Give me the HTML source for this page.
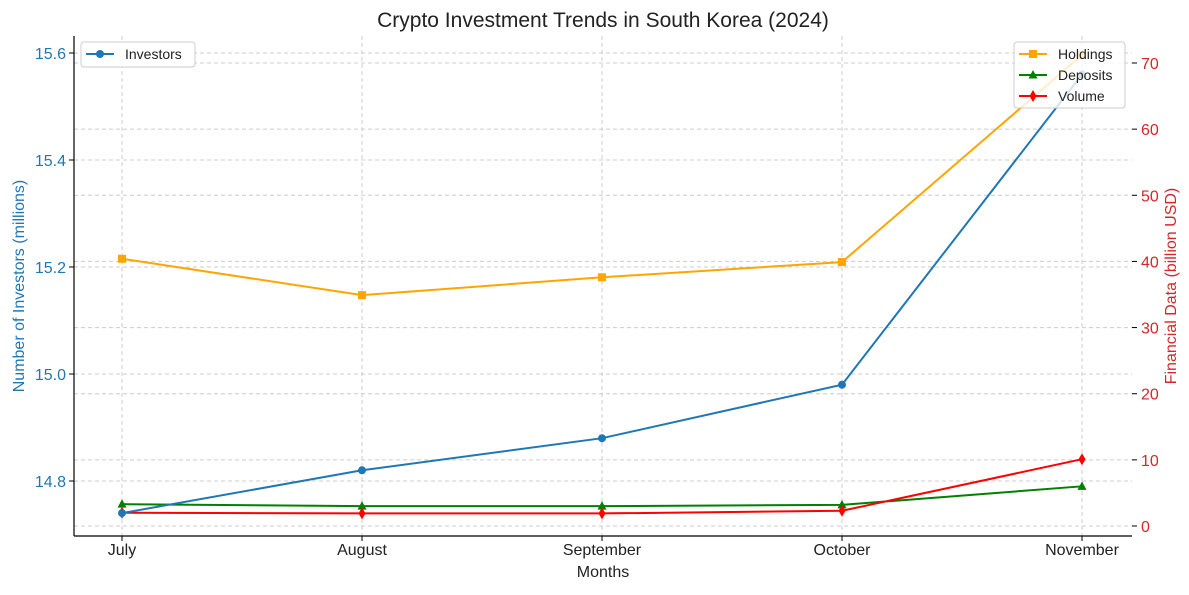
<!DOCTYPE html>
<html><head><meta charset="utf-8"><style>
body{margin:0;background:#fff;font-family:"Liberation Sans","DejaVu Sans",sans-serif}
</style></head><body>
<svg id="c" width="1189" height="590" xmlns="http://www.w3.org/2000/svg"></svg>
<script>
const months=["July","August","September","October","November"];
const investors=[14.74,14.82,14.88,14.98,15.56];
const holdings=[40.4,34.9,37.6,39.9,71.2];
const deposits=[3.3,3.0,3.0,3.2,6.0];
const volume=[2.0,1.9,1.9,2.3,10.1];
const leftTicks=[14.8,15.0,15.2,15.4,15.6];
const rightTicks=[0,10,20,30,40,50,60,70];
const L=74,R=1132,T=36,B=536;
const x=i=>122+i*240;
const yl=v=>481-(v-14.8)/0.2*107;
const yr=v=>526-v*463/70;
const svg=document.getElementById('c');
const NS="http://www.w3.org/2000/svg";
function mk(t,a,txt){const e=document.createElementNS(NS,t);for(const k in a)e.setAttribute(k,a[k]);if(txt!=null)e.textContent=txt;svg.appendChild(e);return e;}
// grid
months.forEach((m,i)=>{const g=mk('line',{x1:x(i),x2:x(i),y1:T,y2:B,stroke:'#ccc','stroke-dasharray':'4,3'});

});
leftTicks.forEach(v=>{const g=mk('line',{x1:L,x2:R,y1:yl(v),y2:yl(v),stroke:'#ccc','stroke-dasharray':'4,3'});

});
rightTicks.forEach(v=>{const g=mk('line',{x1:L,x2:R,y1:yr(v),y2:yr(v),stroke:'#ccc','stroke-dasharray':'4,3'});

});
// axes
let a=mk('line',{x1:L,x2:L,y1:T,y2:B,stroke:'#000','stroke-width':1.2});


a=mk('line',{x1:L,x2:R,y1:B,y2:B,stroke:'#000','stroke-width':1.2});


months.forEach((m,i)=>{mk('line',{x1:x(i),x2:x(i),y1:B,y2:B+5,stroke:'#000'});
const t=mk('text',{x:x(i),y:B+19,'text-anchor':'middle','font-size':16,fill:'#222'},m);

});
leftTicks.forEach(v=>{mk('line',{x1:L-5,x2:L,y1:yl(v),y2:yl(v),stroke:'#000'});
const t=mk('text',{x:L-8,y:yl(v)+6,'text-anchor':'end','font-size':16,fill:'#1f77b4'},v.toFixed(1));

});
rightTicks.forEach(v=>{mk('line',{x1:R,x2:R+5,y1:yr(v),y2:yr(v),stroke:'#000'});
const t=mk('text',{x:R+9,y:yr(v)+6,'font-size':16,fill:'#d62728'},v);

});
let t=mk('text',{x:603,y:27,'text-anchor':'middle','font-size':21,fill:'#222'},'Crypto Investment Trends in South Korea (2024)');

t=mk('text',{x:603,y:577,'text-anchor':'middle','font-size':16,fill:'#222'},'Months');

t=mk('text',{x:24,y:286,'text-anchor':'middle','font-size':16,fill:'#1f77b4',transform:'rotate(-90 24 286)'},'Number of Investors (millions)');

t=mk('text',{x:1176,y:286,'text-anchor':'middle','font-size':16,fill:'#d62728',transform:'rotate(-90 1176 286)'},'Financial Data (billion USD)');

function marker(type,cx,cy,col){
 if(type==='o')return mk('circle',{cx,cy,r:4,fill:col});
 if(type==='s')return mk('rect',{x:cx-4,y:cy-4,width:8,height:8,fill:col});
 if(type==='^')return mk('polygon',{points:`${cx},${cy-5} ${cx-4.5},${cy+3.5} ${cx+4.5},${cy+3.5}`,fill:col});
 return mk('polygon',{points:`${cx},${cy-6} ${cx-3.5},${cy} ${cx},${cy+6} ${cx+3.5},${cy}`,fill:col});
}
function series(vals,yf,col,mt,name){
 const p=mk('polyline',{points:vals.map((v,i)=>x(i)+','+yf(v)).join(' '),fill:'none',stroke:col,'stroke-width':2});
 
 
 vals.forEach((v,i)=>{const m=marker(mt,x(i),yf(v),col);
 
 });
}
series(holdings,yr,'#ffa500','s','holdings');
series(deposits,yr,'#008000','^','deposits');
series(volume,yr,'#ff0000','d','volume');
series(investors,yl,'#1f77b4','o','investors');
// legends
let lg=mk('rect',{x:81,y:42,width:114,height:25,fill:'#fff',stroke:'#ccc',rx:3});

mk('line',{x1:86,x2:114,y1:54,y2:54,stroke:'#1f77b4','stroke-width':2});marker('o',100,54,'#1f77b4');
t=mk('text',{x:125,y:59,'font-size':14,fill:'#222'},'Investors');

lg=mk('rect',{x:1014,y:42,width:111,height:66,fill:'#fff','fill-opacity':0.8,stroke:'#ccc',rx:3});

[['Holdings','#ffa500','s'],['Deposits','#008000','^'],['Volume','#ff0000','d']].forEach((e,i)=>{
 const yy=54+i*21;
 mk('line',{x1:1019,x2:1047,y1:yy,y2:yy,stroke:e[1],'stroke-width':2});marker(e[2],1033,yy,e[1]);
 const tt=mk('text',{x:1058,y:yy+5,'font-size':14,fill:'#222'},e[0]);
 
 
});
</script>
</body></html>
